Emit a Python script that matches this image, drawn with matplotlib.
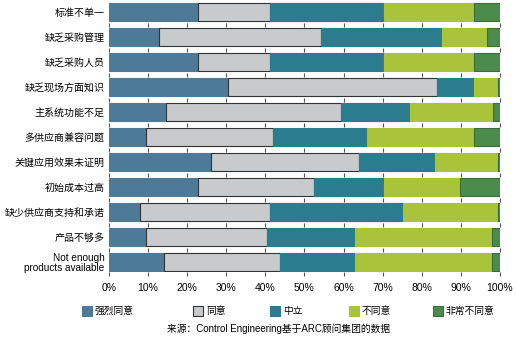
import numpy as np
import matplotlib
matplotlib.use('Agg')
from matplotlib import pyplot as plt
from matplotlib.patches import Rectangle

plt.rcParams['font.family'] = ['Liberation Sans', 'Noto Sans CJK SC', 'DejaVu Sans']

# 数据（百分比，各项累计到100）
categories = ['标准不单一', '缺乏采购管理', '缺乏采购人员', '缺乏现场方面知识', '主系统功能不足',
              '多供应商兼容问题', '关键应用效果未证明', '初始成本过高', '缺少供应商支持和承诺',
              '产品不够多', 'Not enough\nproducts available']
strongly_agree = [22.7, 12.9, 22.7, 30.5, 14.5, 9.5, 26.0, 22.7, 7.9, 9.5, 14.2]
agree = [18.5, 41.3, 18.5, 53.4, 44.8, 32.5, 38.0, 29.7, 33.3, 31.0, 29.5]
neutral = [29.1, 31.0, 29.1, 9.5, 17.6, 24.0, 19.4, 17.9, 33.9, 22.4, 19.2]
disagree = [23.1, 11.4, 23.1, 6.1, 21.2, 27.4, 16.1, 19.5, 24.4, 35.1, 35.1]
strongly_disagree = [6.6, 3.4, 6.6, 0.5, 1.9, 6.6, 0.5, 10.2, 0.5, 2.0, 2.0]
series_names = ['强烈同意', '同意', '中立', '不同意', '非常不同意']
colors = ['#4d7b97', '#c9cacc', '#2b7c8f', '#a9c33b', '#4b8b4b']
edges = ['#4d7b97', '#333333', '#2b7c8f', '#a9c33b', '#3a6e3a']
xticks = [0, 10, 20, 30, 40, 50, 60, 70, 80, 90, 100]

fig = plt.figure(figsize=(5.16, 3.4), dpi=100)
ax = fig.add_axes([0.211, 0.2, 0.758, 0.794])

y = np.arange(len(categories))
left = np.zeros(len(categories))
for vals, c, e in zip([strongly_agree, agree, neutral, disagree, strongly_disagree], colors, edges):
    ax.barh(y, vals, left=left, height=0.72, color=c, edgecolor=e, linewidth=0.8, zorder=2)
    left += np.array(vals)

# 条形之间的小刻度点
gx, gy = np.meshgrid(xticks, y + 0.5)
ax.scatter(gx.ravel(), gy.ravel(), marker='|', s=6, linewidths=0.8, color='#555555',
           zorder=1, clip_on=False)

ax.set_xlim(0, 100)
ax.set_ylim(len(categories) - 0.6, -0.4)
ax.set_yticks(y)
ax.set_yticklabels(categories, fontsize=7.2, linespacing=1.0)
ax.set_xticks(xticks)
ax.set_xticklabels([f'{t}%' for t in xticks], fontsize=7.5)
ax.tick_params(axis='both', length=0, pad=3)
ax.tick_params(axis='x', pad=8)
for s in ax.spines.values():
    s.set_visible(False)

# 图例
leg_x = [82, 193, 270, 349, 433]
for nm, c, e, lx in zip(series_names, colors, edges, leg_x):
    fig.add_artist(Rectangle((lx / 516, 1 - 316 / 340), 10 / 516, 10 / 340,
                             facecolor=c, edgecolor=e, linewidth=0.8, transform=fig.transFigure))
    fig.text((lx + 13) / 516, 1 - 311 / 340, nm, fontsize=7, va='center', ha='left')

fig.text(0.54, 1 - 329 / 340, '来源：Control Engineering基于ARC顾问集团的数据',
         fontsize=7, ha='center', va='center')

fig.savefig('out.png', dpi=100)
